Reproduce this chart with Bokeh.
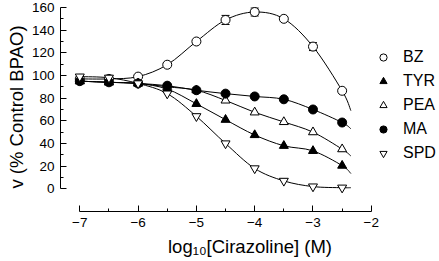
import numpy as np
from bokeh.plotting import figure
from bokeh.models import (Range1d, FixedTicker, CustomJSTickFormatter, Legend, LegendItem,
                          ColumnDataSource, Whisker, TeeHead)
from bokeh.embed import file_html
from bokeh.resources import INLINE

# ---- data ----
log_conc = [-7, -6.5, -6, -5.5, -5, -4.5, -4, -3.5, -3, -2.5]
bz = [97, 97, 99, 109.5, 130, 149, 156, 150, 125.5, 86.5]
bz_err = [0, 0, 0, 0, 0, 4, 3.5, 0, 3.5, 0]
tyr = [95, 94, 93, 88, 75, 61, 47.5, 38, 33.5, 20.5]
pea = [95, 94, 93, 90, 87, 78, 67.5, 59, 50, 35]
ma = [95, 94, 93, 91, 87, 84, 81.5, 79, 70, 58.5]
spd = [99, 98, 93, 84, 64, 40, 18, 7, 2, 1]
series_names = ["BZ", "TYR", "PEA", "MA", "SPD"]
fit_end_x = -2.35
fit_end = [69, 13.5, 29, 53, 1]
x_ticks = [-7, -6, -5, -4, -3, -2]
x_minor = [-6.5, -5.5, -4.5, -3.5, -2.5]
y_ticks = [0, 20, 40, 60, 80, 100, 120, 140, 160]
y_minor = [10, 30, 50, 70, 90, 110, 130, 150]

FONT = "Liberation Sans"

p = figure(width=439, height=261, output_backend="svg", toolbar_location=None,
           x_range=Range1d(-7.331, -0.83), y_range=Range1d(-20.0, 164.4),
           min_border_left=60, min_border_right=0, min_border_top=2, min_border_bottom=50)
p.outline_line_color = None
p.xgrid.visible = False
p.ygrid.visible = False
p.background_fill_color = "white"
p.border_fill_color = "white"


def smooth_segments(xs, ys):
    P = np.column_stack([xs, ys]).astype(float)
    E = np.vstack([P[0], P, P[-1]])
    n = len(P) - 1
    a, b, c, d = E[:n], E[1:n + 1], E[2:n + 2], E[3:n + 3]
    c0 = b + (c - a) / 6.0
    c1 = c - (d - b) / 6.0
    return dict(x0=b[:, 0], y0=b[:, 1], x1=c[:, 0], y1=c[:, 1],
                cx0=c0[:, 0], cy0=c0[:, 1], cx1=c1[:, 0], cy1=c1[:, 1])


all_series = [bz, tyr, pea, ma, spd]
for ys, yend in zip(all_series, fit_end):
    seg = smooth_segments(log_conc + [fit_end_x], ys + [yend])
    p.bezier(source=ColumnDataSource(seg), x0="x0", y0="y0", x1="x1", y1="y1",
             cx0="cx0", cy0="cy0", cx1="cx1", cy1="cy1",
             line_color="black", line_width=1)

# error bars for BZ
idx = [i for i, e in enumerate(bz_err) if e > 0]
err_src = ColumnDataSource(dict(x=[log_conc[i] for i in idx],
                                upper=[bz[i] + bz_err[i] for i in idx],
                                lower=[bz[i] - bz_err[i] for i in idx]))
wh = Whisker(source=err_src, base="x", upper="upper", lower="lower", dimension="height",
             line_color="black", line_width=1, level="underlay",
             upper_head=TeeHead(size=8, line_color="black", line_width=1),
             lower_head=TeeHead(size=8, line_color="black", line_width=1))
p.add_layout(wh)

styles = [("circle", "white"), ("triangle", "black"), ("triangle", "white"),
          ("circle", "black"), ("inverted_triangle", "white")]
items = []
for name, ys, (mk, fill) in zip(series_names, all_series, styles):
    src = ColumnDataSource(dict(x=log_conc, y=ys))
    # smaller marker (fully covered by the plot marker) that serves as the legend key
    key = p.scatter("x", "y", source=src, marker=mk, size=7, fill_color=fill,
                    line_color="black", line_width=1)
    p.scatter("x", "y", source=src, marker=mk, size=9, fill_color=fill,
              line_color="black", line_width=1)
    items.append(LegendItem(label=name, renderers=[key]))

legend = Legend(items=items, location=(314, 48), padding=0, margin=0, spacing=4,
                glyph_width=18, glyph_height=18, label_height=20, label_standoff=11,
                label_text_font=FONT, label_text_font_size="16px", label_text_color="black",
                border_line_color=None, background_fill_alpha=0)
p.add_layout(legend)

fmt = CustomJSTickFormatter(code="return (tick < 0 ? '\\u2212' : '') + Math.abs(tick).toString();")

xa = p.xaxis[0]
xa.ticker = FixedTicker(ticks=x_ticks, minor_ticks=x_minor)
xa.formatter = fmt
xa.bounds = (-7, -2)
xa.axis_label = "log\u2081\u2080[Cirazoline] (M)"

ya = p.yaxis[0]
ya.ticker = FixedTicker(ticks=y_ticks, minor_ticks=y_minor)
ya.bounds = (0, 160)
ya.axis_label = "v (% Control BPAO)"

for ax in (xa, ya):
    ax.major_tick_in = 6
    ax.major_tick_out = 0
    ax.minor_tick_in = 3
    ax.minor_tick_out = 0
    ax.axis_line_color = "black"
    ax.major_tick_line_color = "black"
    ax.minor_tick_line_color = "black"
    ax.major_label_text_font = FONT
    ax.major_label_text_font_size = "13.5px"
    ax.major_label_text_color = "black"
    ax.axis_label_text_font = FONT
    ax.axis_label_text_font_size = "18.5px"
    ax.axis_label_text_font_style = "normal"
    ax.axis_label_text_color = "black"
    ax.major_label_standoff = 6

xa.axis_label_standoff = 6
ya.axis_label_standoff = 2

with open("out.html", "w", encoding="utf-8") as f:
    f.write(file_html(p, INLINE))
